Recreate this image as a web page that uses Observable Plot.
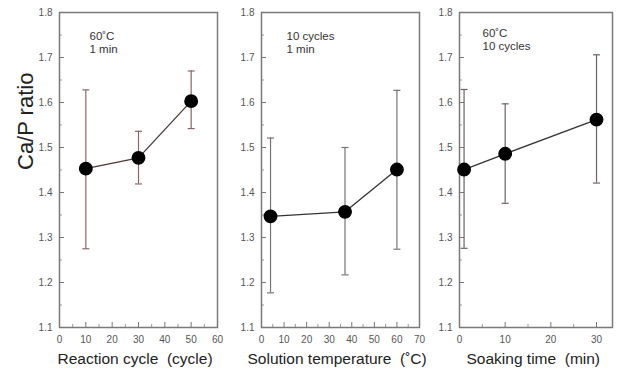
<!DOCTYPE html>
<html>
<head>
<meta charset="utf-8">
<script src="https://cdn.jsdelivr.net/npm/d3@7"></script>
<script src="https://cdn.jsdelivr.net/npm/@observablehq/plot@0.6"></script>
<style>
  html, body { margin: 0; padding: 0; background: #fff; }
  #wrap { position: relative; width: 617px; height: 370px; overflow: hidden; font-family: "Liberation Sans", Arial, sans-serif; }
  #wrap svg { position: absolute; top: 0; overflow: visible; }
  #wrap svg text { white-space: pre; }
</style>
</head>
<body>
<div id="wrap"></div>
<script>
// ---- data ----
const cycles = [10, 30, 50];
const cycleRatio = [1.453, 1.477, 1.603];
const cycleLo = [1.275, 1.419, 1.542];
const cycleHi = [1.628, 1.536, 1.670];

const temps = [4, 37, 60];
const tempRatio = [1.347, 1.357, 1.451];
const tempLo = [1.177, 1.217, 1.274];
const tempHi = [1.521, 1.500, 1.627];

const times = [1, 10, 30];
const timeRatio = [1.451, 1.486, 1.562];
const timeLo = [1.276, 1.376, 1.421];
const timeHi = [1.629, 1.597, 1.706];

const yTicks = [1.1, 1.2, 1.3, 1.4, 1.5, 1.6, 1.7, 1.8];
const yMinor = [1.15, 1.25, 1.35, 1.45, 1.55, 1.65, 1.75];
const cycleTicks = [0, 10, 20, 30, 40, 50, 60];
const cycleMinor = [5, 15, 25, 35, 45, 55];
const tempTicks = [0, 10, 20, 30, 40, 50, 60, 70];
const tempMinor = [5, 15, 25, 35, 45, 55, 65];
const timeTicks = [0, 10, 20, 30];
const timeMinor = [5, 15, 25];

const yLabel = "Ca/P ratio";
const xTitles = ["Reaction cycle  (cycle)", "Solution temperature  (˚C)", "Soaking time  (min)"];
const notes = ["60˚C\n1 min", "10 cycles\n1 min", "60˚C\n10 cycles"];

// ---- drawing ----
const capSymbol = {
  draw(ctx, size) {
    const w = Math.sqrt(size / Math.PI);
    ctx.moveTo(-w, 0);
    ctx.lineTo(w, 0);
  }
};

function rows(xs, ys, lo, hi) {
  return xs.map((x, i) => ({x, y: ys[i], lo: lo[i], hi: hi[i]}));
}

function panel({left, width, marginLeft, marginRight, domain, ticks, minor, data, barColor, lineColor, title, titleDx, note, noteDx, noteDy, withYLabel}) {
  const marginTop = 12, marginBottom = 43, height = 370;
  const fw = width - marginLeft - marginRight;
  const fh = height - marginTop - marginBottom;
  const marks = [
    Plot.ruleY(yTicks, {y: d => d, insetRight: fw - 5, stroke: "#777", strokeWidth: 1}),
    Plot.ruleY(yMinor, {y: d => d, insetRight: fw - 3, stroke: "#999", strokeWidth: 1}),
    Plot.ruleX(ticks, {x: d => d, insetTop: fh - 5, stroke: "#777", strokeWidth: 1}),
    Plot.ruleX(minor, {x: d => d, insetTop: fh - 3, stroke: "#999", strokeWidth: 1}),
    Plot.axisY(yTicks, {tickSize: 0, tickPadding: 7, tickFormat: d3.format(".1f"), fontSize: 10, color: "#555", label: null}),
    Plot.axisX(ticks, {tickSize: 0, tickPadding: 8, fontSize: 10, color: "#555", label: null}),
    Plot.frame({stroke: "#7a7a7a", strokeWidth: 1.5}),
    Plot.ruleX(data, {x: "x", y1: "lo", y2: "hi", stroke: barColor, strokeWidth: 1.2}),
    Plot.dot(data, {x: "x", y: "hi", symbol: capSymbol, r: 3.5, stroke: barColor, strokeWidth: 1.2}),
    Plot.dot(data, {x: "x", y: "lo", symbol: capSymbol, r: 3.5, stroke: barColor, strokeWidth: 1.2}),
    Plot.line(data, {x: "x", y: "y", stroke: lineColor, strokeWidth: 1.3}),
    Plot.dot(data, {x: "x", y: "y", r: 6.2, fill: "#000", stroke: "#000"}),
    Plot.text([note], {text: d => d, frameAnchor: "top-left", textAnchor: "start", lineAnchor: "top", dx: noteDx, dy: noteDy, fontSize: 11.5, fill: "#333", lineHeight: 1.15}),
    Plot.text([title], {text: d => d, frameAnchor: "bottom-left", textAnchor: "start", lineAnchor: "bottom", dx: titleDx, dy: 36, fontSize: 15.5, fill: "#222"})
  ];
  if (withYLabel) {
    marks.push(Plot.text([yLabel], {text: d => d, frameAnchor: "left", rotate: -90, dx: -34, fontSize: 22, fill: "#222"}));
  }
  const svg = Plot.plot({
    width, height, marginLeft, marginRight, marginTop, marginBottom,
    style: {fontFamily: '"Liberation Sans", Arial, sans-serif', background: "transparent", overflow: "visible"},
    x: {domain, axis: null},
    y: {domain: [1.1, 1.8], axis: null},
    marks
  });
  svg.style.left = left + "px";
  document.getElementById("wrap").appendChild(svg);
}

panel({left: 0, width: 220, marginLeft: 59, marginRight: 3, domain: [0, 60], ticks: cycleTicks, minor: cycleMinor,
  data: rows(cycles, cycleRatio, cycleLo, cycleHi), barColor: "#8a6666", lineColor: "#4a3838",
  title: xTitles[0], titleDx: -2, note: notes[0], noteDx: 30, noteDy: 18, withYLabel: true});

panel({left: 220, width: 202, marginLeft: 41, marginRight: 3, domain: [0, 70], ticks: tempTicks, minor: tempMinor,
  data: rows(temps, tempRatio, tempLo, tempHi), barColor: "#7a7272", lineColor: "#333",
  title: xTitles[1], titleDx: -14, note: notes[1], noteDx: 25, noteDy: 18, withYLabel: false});

panel({left: 422, width: 195, marginLeft: 37, marginRight: 5, domain: [0, 33.5], ticks: timeTicks, minor: timeMinor,
  data: rows(times, timeRatio, timeLo, timeHi), barColor: "#6e6262", lineColor: "#333",
  title: xTitles[2], titleDx: 7, note: notes[2], noteDx: 23, noteDy: 15, withYLabel: false});
</script>
</body>
</html>
